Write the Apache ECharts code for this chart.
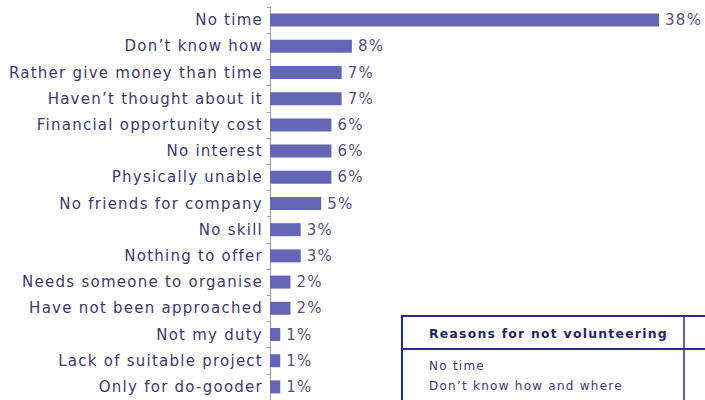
<!DOCTYPE html>
<html>
<head>
<meta charset="utf-8">
<script src="https://cdn.jsdelivr.net/npm/echarts@6/dist/echarts.min.js"></script>
<style>
  html, body { margin: 0; padding: 0; background: #ffffff; }
  #chart { width: 705px; height: 400px; }
  /* the printed lettering is widely tracked */
  #chart svg text { letter-spacing: 1.25px; }
</style>
</head>
<body>
<div id="chart"></div>
<script>
// Reasons given for not volunteering, share of respondents (%)
const reasons = [
  'No time',
  'Don\u2019t know how',
  'Rather give money than time',
  'Haven\u2019t thought about it',
  'Financial opportunity cost',
  'No interest',
  'Physically unable',
  'No friends for company',
  'No skill',
  'Nothing to offer',
  'Needs someone to organise',
  'Have not been approached',
  'Not my duty',
  'Lack of suitable project',
  'Only for do-gooder'
];
const shares = [38, 8, 7, 7, 6, 6, 6, 5, 3, 3, 2, 2, 1, 1, 1];

// Inset table rows
const tableHeader = 'Reasons for not volunteering';
const tableRows = ['No time', 'Don\u2019t know how and where'];

const textColor = '#3a3a6a';
const barColor = '#6565b6';
const navy = '#2b2b86';
const font = 'DejaVu Sans';

const chart = echarts.init(document.getElementById('chart'), null, { renderer: 'svg' });

chart.setOption({
  animation: false,
  grid: { left: 270, right: 5, top: 7, bottom: -2, containLabel: false },
  xAxis: {
    type: 'value', min: 0, max: 42,
    show: false
  },
  yAxis: {
    type: 'category',
    data: reasons,
    inverse: true,
    axisLine: { show: true, lineStyle: { color: '#9a9ab2', width: 1 } },
    axisTick: { show: true, length: 3, lineStyle: { color: '#9a9ab2' } },
    axisLabel: {
      color: textColor, fontFamily: font, fontSize: 15, margin: 7
    }
  },
  series: [{
    type: 'bar',
    data: shares,
    barWidth: 13,
    itemStyle: { color: barColor },
    label: {
      show: true, position: 'right', distance: 6,
      formatter: '{c}%', color: '#52527c', fontFamily: font, fontSize: 15
    }
  }],
  graphic: [
    { type: 'rect', shape: { x: 402, y: 316, width: 320, height: 100 },
      style: { fill: '#ffffff', stroke: navy, lineWidth: 2 }, z: 100 },
    { type: 'line', shape: { x1: 402, y1: 349, x2: 710, y2: 349 },
      style: { stroke: navy, lineWidth: 2 }, z: 101 },
    { type: 'line', shape: { x1: 684, y1: 316, x2: 684, y2: 410 },
      style: { stroke: navy, lineWidth: 1.5 }, z: 101 },
    { type: 'text', x: 429, y: 333,
      style: { text: tableHeader, fill: '#252560', font: 'bold 12.4px "DejaVu Sans"', textVerticalAlign: 'middle' }, z: 102 },
    { type: 'text', x: 429, y: 366,
      style: { text: tableRows[0], fill: textColor, font: '12px "DejaVu Sans"', textVerticalAlign: 'middle' }, z: 102 },
    { type: 'text', x: 429, y: 386,
      style: { text: tableRows[1], fill: textColor, font: '12px "DejaVu Sans"', textVerticalAlign: 'middle' }, z: 102 }
  ]
});
</script>
</body>
</html>
